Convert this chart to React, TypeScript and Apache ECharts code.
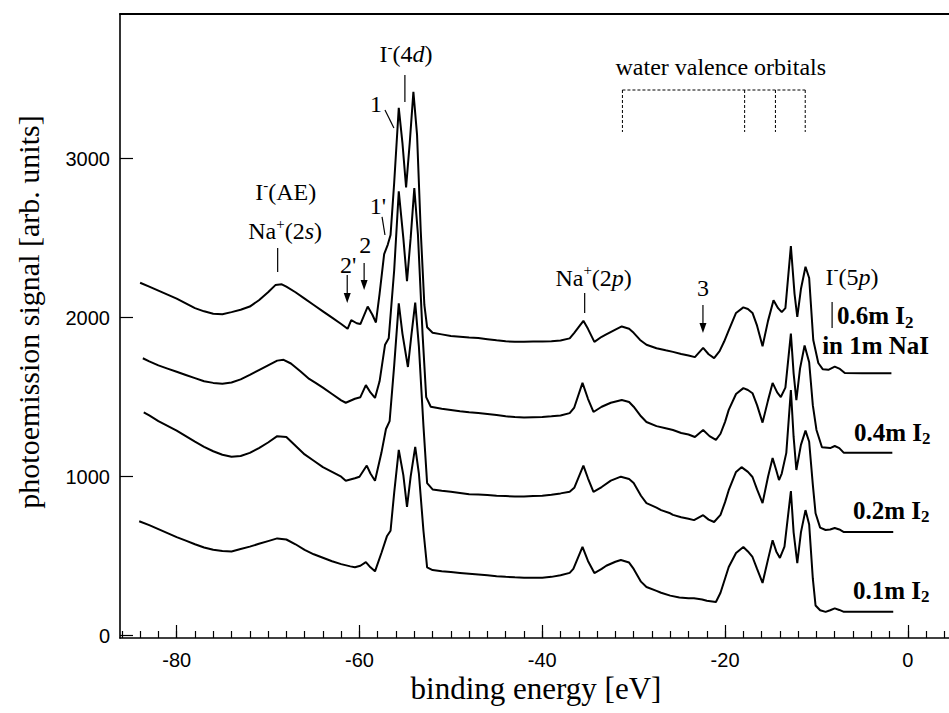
import React, { useEffect, useRef } from "react";
import * as echarts from "echarts";

// ---------- data (binding energy [eV], signal [arb. units]) ----------
const curve06: [number, number][] = [
  [-84.0, 2220], [-83, 2195], [-82, 2170], [-81, 2145], [-80, 2120], [-79, 2090], [-78, 2060], [-77, 2040],
  [-76, 2025], [-75, 2022], [-74, 2035], [-73, 2050], [-72, 2070], [-71, 2110], [-70, 2160], [-69.2, 2205],
  [-68.5, 2210], [-68, 2195], [-67, 2160], [-66, 2120], [-65, 2080], [-64, 2040], [-63, 2000], [-62, 1960],
  [-61.3, 1930], [-60.9, 1985], [-60.3, 1965], [-59.9, 1960], [-59.1, 2070], [-58.6, 2020], [-58.2, 1970],
  [-57.8, 2150], [-57.3, 2400], [-56.9, 2460], [-56.6, 2520], [-56.2, 2850], [-55.7, 3320], [-55.3, 3100],
  [-54.9, 2820], [-54.5, 3100], [-54.1, 3420], [-53.7, 3150], [-53.3, 2550], [-52.9, 2080], [-52.6, 1940],
  [-52, 1905], [-51, 1895], [-50, 1885], [-49, 1880], [-48, 1875], [-47, 1872], [-46, 1865], [-45, 1858],
  [-44, 1852], [-43, 1848], [-42, 1848], [-41, 1850], [-40, 1850], [-39, 1852], [-38, 1856], [-37, 1870],
  [-36.5, 1905], [-35.5, 1980], [-35, 1930], [-34.3, 1848], [-33.5, 1880], [-33, 1895], [-32, 1925],
  [-31.3, 1945], [-30.5, 1930], [-30, 1905], [-29.3, 1860], [-28.6, 1830], [-27.5, 1808], [-26.5, 1795],
  [-25.7, 1785], [-24.8, 1772], [-24, 1762], [-23.3, 1752], [-22.4, 1810], [-21.8, 1770], [-21.2, 1746],
  [-20.6, 1790], [-20.1, 1850], [-19.6, 1920], [-18.8, 2030], [-18, 2065], [-17.5, 2055], [-17, 2030],
  [-16.5, 1950], [-15.9, 1820], [-15.3, 1980], [-14.7, 2110], [-14.2, 2060], [-13.8, 2035], [-13.4, 2060],
  [-12.8, 2450], [-12.4, 2150], [-12.1, 2005], [-11.7, 2180], [-11.2, 2320], [-10.8, 2250], [-10.35, 1860],
  [-9.8, 1715], [-9.3, 1675], [-8.7, 1672], [-8.0, 1692], [-7.5, 1680], [-6.9, 1652], [-5, 1650], [-1.8, 1650],
];

const curve04: [number, number][] = [
  [-83.7, 1745], [-83, 1725], [-82, 1700], [-81, 1680], [-80, 1660], [-79, 1640], [-78, 1620], [-77, 1600],
  [-76, 1590], [-75, 1585], [-74, 1592], [-73, 1612], [-72, 1640], [-71, 1670], [-70, 1700], [-69, 1730],
  [-68.3, 1735], [-67.5, 1712], [-66.5, 1665], [-65.5, 1615], [-64.8, 1590], [-64, 1560], [-63, 1520],
  [-62, 1480], [-61.5, 1465], [-60.5, 1490], [-59.9, 1500], [-59.3, 1576], [-58.8, 1530], [-58.3, 1495],
  [-57.8, 1600], [-57.2, 1830], [-56.8, 1870], [-56.2, 2300], [-55.7, 2795], [-55.2, 2500], [-54.8, 2230],
  [-54.4, 2500], [-54.0, 2815], [-53.6, 2520], [-53.1, 1900], [-52.7, 1500], [-52.2, 1440], [-51, 1428],
  [-50, 1420], [-49, 1412], [-48, 1405], [-47, 1400], [-46, 1395], [-45, 1388], [-44, 1380], [-43, 1375],
  [-42, 1372], [-41, 1374], [-40, 1376], [-39, 1380], [-38, 1385], [-37, 1400], [-36.5, 1435], [-35.6, 1590],
  [-35, 1490], [-34.4, 1407], [-33.5, 1440], [-32.5, 1465], [-31.3, 1482], [-30.5, 1470], [-30, 1440],
  [-29.2, 1380], [-28.6, 1344], [-27.5, 1318], [-26.5, 1305], [-25.7, 1294], [-24.8, 1275], [-24, 1265],
  [-23.3, 1250], [-22.4, 1294], [-21.7, 1255], [-21, 1232], [-20.5, 1270], [-20, 1345], [-19.6, 1420],
  [-18.8, 1520], [-18, 1557], [-17.5, 1545], [-17, 1525], [-16.5, 1450], [-15.9, 1340], [-15.3, 1480],
  [-14.8, 1590], [-14.3, 1530], [-13.9, 1501], [-13.4, 1560], [-12.8, 1900], [-12.5, 1650], [-12.2, 1482],
  [-11.8, 1680], [-11.3, 1825], [-10.8, 1720], [-10.4, 1450], [-10.0, 1294], [-9.4, 1185], [-8.5, 1180],
  [-8.0, 1193], [-7.5, 1180], [-7, 1150], [-5, 1150], [-1.7, 1150],
];

const curve02: [number, number][] = [
  [-83.6, 1405], [-83, 1385], [-82, 1350], [-81, 1320], [-80, 1290], [-79, 1255], [-78, 1220], [-77, 1188],
  [-76, 1160], [-75, 1138], [-74, 1125], [-73, 1130], [-72, 1150], [-71, 1180], [-70, 1215], [-69, 1255],
  [-68, 1250], [-67, 1195], [-66, 1140], [-65, 1100], [-64, 1060], [-63, 1030], [-62, 1000], [-61.5, 975],
  [-60.5, 990], [-60, 1000], [-59.2, 1070], [-58.8, 1020], [-58.3, 975], [-57.6, 1150], [-57.1, 1300],
  [-56.7, 1350], [-56.2, 1700], [-55.7, 2090], [-55.3, 1900], [-54.7, 1690], [-54.3, 1900], [-53.9, 2095],
  [-53.5, 1820], [-53, 1320], [-52.6, 960], [-52, 920], [-51, 912], [-50, 905], [-49, 898], [-48, 890],
  [-47, 888], [-46, 885], [-45, 880], [-44, 878], [-43, 876], [-42, 875], [-41, 878], [-40, 880], [-39, 886],
  [-38, 895], [-37, 905], [-36.5, 930], [-35.5, 1070], [-35, 990], [-34.4, 905], [-33.5, 935], [-32.5, 975],
  [-31.4, 1000], [-30.5, 985], [-30, 960], [-29.2, 880], [-28.6, 834], [-27.5, 805], [-27, 790],
  [-26, 770], [-25.7, 760], [-24.8, 745], [-24, 735], [-23.4, 727], [-22.4, 758], [-21.8, 730], [-21.2, 715],
  [-20.5, 760], [-20, 840], [-19.6, 915], [-18.8, 1030], [-18.2, 1060], [-17.5, 1030], [-17, 998],
  [-16.5, 920], [-15.9, 834], [-15.3, 1000], [-14.8, 1117], [-14.4, 1040], [-14.1, 979], [-13.8, 1020],
  [-13.3, 1150], [-12.8, 1545], [-12.5, 1250], [-12.2, 1042], [-11.7, 1200], [-11.2, 1290], [-10.8, 1220],
  [-10.4, 950], [-10.1, 770], [-9.6, 680], [-9, 665], [-8.5, 668], [-8, 677], [-7.5, 668], [-7, 652],
  [-5, 652], [-1.6, 652],
];

const curve01: [number, number][] = [
  [-84.1, 720], [-83, 695], [-82, 670], [-81, 645], [-80, 620], [-79, 598], [-78, 575], [-77, 555],
  [-76, 540], [-75, 532], [-74, 530], [-73, 545], [-72, 560], [-71, 578], [-70, 595], [-69, 612],
  [-68, 605], [-67, 575], [-66, 540], [-65, 512], [-64, 490], [-63, 468], [-62, 450], [-61, 436],
  [-60.5, 430], [-59.9, 440], [-59.3, 463], [-58.8, 430], [-58.3, 405], [-57.6, 520], [-57, 625],
  [-56.6, 660], [-56.2, 900], [-55.7, 1168], [-55.2, 1010], [-54.8, 810], [-54.4, 1000], [-53.9, 1187],
  [-53.5, 1020], [-53, 660], [-52.6, 430], [-52, 413], [-51, 405], [-50, 400], [-49, 395], [-48, 390],
  [-47, 385], [-46, 380], [-45, 374], [-44, 370], [-43, 367], [-42, 365], [-41, 364], [-40, 365],
  [-39, 370], [-38, 380], [-37, 395], [-36.6, 420], [-35.6, 558], [-35, 470], [-34.3, 394], [-33.5, 420],
  [-33, 440], [-32, 465], [-31.4, 476], [-30.5, 460], [-30, 420], [-29.2, 340], [-28.6, 306], [-27.5, 282],
  [-27, 270], [-26, 252], [-25, 240], [-24, 236], [-23.4, 235], [-22.5, 228], [-22, 220], [-21, 212],
  [-20.5, 270], [-20, 360], [-19.6, 432], [-18.8, 520], [-18, 558], [-17.5, 530], [-17, 495], [-16.5, 420],
  [-15.9, 332], [-15.3, 480], [-14.8, 600], [-14.4, 530], [-14, 489], [-13.5, 560], [-12.8, 910],
  [-12.5, 650], [-12.1, 457], [-11.7, 650], [-11.2, 790], [-10.8, 700], [-10.4, 360], [-10.1, 190],
  [-9.6, 160], [-9, 150], [-8.5, 160], [-8, 172], [-7.5, 162], [-7, 150], [-5, 150], [-1.6, 150],
];

const seriesNames = ["0.6m I2 in 1m NaI", "0.4m I2", "0.2m I2", "0.1m I2"];

// ---------- axes ----------
const xMin = -86.2;
const xMax = 4.5;
const yMin = -14.5;
const yMax = 3910;
const xTickLabels = [-80, -60, -40, -20, 0];
const xMinorTicks = [
  -86, -84, -82, -80, -78, -76, -74, -72, -70, -68, -66, -64, -62, -60, -58, -56, -54, -52, -50, -48, -46,
  -44, -42, -40, -38, -36, -34, -32, -30, -28, -26, -24, -22, -20, -18, -16, -14, -12, -10, -8, -6, -4, -2, 0, 2, 4,
];
const yTickLabels = [0, 1000, 2000, 3000];

// ---------- annotations (data coordinates) ----------
type Pt = [number, number];
const annoTicks: [Pt, Pt][] = [
  [[-55.03, 3526], [-55.03, 3356]], // I-(4d)
  [[-57.21, 3306], [-56.23, 3193]], // 1
  [[-57.53, 2634], [-57.21, 2520]], // 1'
  [[-68.95, 2438], [-68.95, 2287]], // AE / Na 2s
  [[-35.36, 2155], [-35.36, 2030]], // Na 2p
  [[-8.29, 2099], [-8.29, 1935]], // 0.6m bar
];
const annoArrows: [Pt, Pt][] = [
  [[-61.34, 2269], [-61.34, 2093]], // 2'
  [[-59.49, 2344], [-59.49, 2174]], // 2
  [[-22.42, 2080], [-22.42, 1904]], // 3
];
const bracketTop = 3432;
const bracketBottom = 3168;
const bracketXs = [-31.23, -17.86, -14.49, -11.23];

const annoTexts: { t: string; at: Pt; align?: string }[] = [
  { t: "{n|I}{sup|-}{n|(4}{i|d}{n|)}", at: [-54.92, 3658] },
  { t: "{n|1}", at: [-58.18, 3344] },
  { t: "{n|1'}", at: [-57.97, 2702] },
  { t: "{n|2'}", at: [-61.23, 2332] },
  { t: "{n|2}", at: [-59.38, 2457] },
  { t: "{n|I}{sup|-}{n|(AE)}", at: [-68.07, 2790] },
  { t: "{n|Na}{sup|+}{n|(2}{i|s}{n|)}", at: [-68.13, 2545] },
  { t: "{n|water valence orbitals}", at: [-20.47, 3577] },
  { t: "{n|Na}{sup|+}{n|(2}{i|p}{n|)}", at: [-34.38, 2250] },
  { t: "{n|3}", at: [-22.42, 2187] },
  { t: "{n|I}{sup|-}{n|(5}{i|p}{n|)}", at: [-6.12, 2256] },
  { t: "{b|0.6m I}{sub|2}", at: [-7.75, 2011], align: "left" },
  { t: "{b|in 1m NaI}", at: [-9.38, 1822], align: "left" },
  { t: "{b|0.4m I}{sub|2}", at: [-5.9, 1281], align: "left" },
  { t: "{b|0.2m I}{sub|2}", at: [-6.01, 790], align: "left" },
  { t: "{b|0.1m I}{sub|2}", at: [-6.01, 287], align: "left" },
];

const SERIF = '"Liberation Serif", "Times New Roman", Times, serif';
const SANS = '"Liberation Sans", Arial, Helvetica, sans-serif';

const rich = {
  n: { fontFamily: SERIF, fontSize: 24, lineHeight: 30, fill: "#000" },
  i: { fontFamily: SERIF, fontSize: 24, fontStyle: "italic", lineHeight: 30, fill: "#000" },
  sup: { fontFamily: SERIF, fontSize: 15, verticalAlign: "top", fill: "#000" },
  b: { fontFamily: SERIF, fontSize: 25, fontWeight: "bold", lineHeight: 30, fill: "#000" },
  sub: { fontFamily: SERIF, fontSize: 17, fontWeight: "bold", verticalAlign: "bottom", fill: "#000" },
};

export default function App() {
  const ref = useRef<HTMLDivElement>(null);
  useEffect(() => {
    if (!ref.current) return;
    const chart = echarts.init(ref.current, undefined, { renderer: "svg" });
    const curves = [curve06, curve04, curve02, curve01];
    chart.setOption({
      animation: false,
      backgroundColor: "#fff",
      grid: { left: 120, top: 14, width: 9.2 * (xMax - xMin), height: 624, containLabel: false },
      xAxis: [
        {
          type: "value", min: xMin, max: xMax, position: "bottom",
          axisLine: { show: true, onZero: false, lineStyle: { color: "#000", width: 1.6 } },
          axisTick: { show: true, inside: true, length: 13, customValues: xTickLabels, lineStyle: { color: "#000", width: 1.2 } },
          axisLabel: {
            show: true, customValues: xTickLabels, color: "#000", fontSize: 20, fontFamily: SANS, margin: 12,
            formatter: (v: number) => String(v),
          },
          splitLine: { show: false },
        },
        {
          type: "value", min: xMin, max: xMax, position: "bottom",
          axisLine: { show: false, onZero: false },
          axisTick: { show: true, inside: true, length: 7, customValues: xMinorTicks, lineStyle: { color: "#000", width: 1.2 } },
          axisLabel: { show: false },
          splitLine: { show: false },
        },
        {
          type: "value", min: xMin, max: xMax, position: "top",
          axisLine: { show: true, onZero: false, lineStyle: { color: "#000", width: 2 } },
          axisTick: { show: false }, axisLabel: { show: false }, splitLine: { show: false },
        },
      ],
      yAxis: [
        {
          type: "value", min: yMin, max: yMax, position: "left",
          axisLine: { show: true, onZero: false, lineStyle: { color: "#000", width: 1.6 } },
          axisTick: { show: true, inside: true, length: 13, customValues: yTickLabels, lineStyle: { color: "#000", width: 1.2 } },
          axisLabel: {
            show: true, customValues: yTickLabels, color: "#000", fontSize: 20, fontFamily: SANS, margin: 10,
            formatter: (v: number) => String(v),
          },
          splitLine: { show: false },
        },
      ],
      series: curves.map((c, k) => ({
        name: seriesNames[k],
        type: "line",
        xAxisIndex: 0,
        yAxisIndex: 0,
        data: c,
        showSymbol: false,
        symbol: "none",
        silent: true,
        lineStyle: { color: "#000", width: 2 },
      })),
    });

    const px = (p: Pt) => chart.convertToPixel({ gridIndex: 0 }, p) as number[];
    const els: any[] = [];
    const seg = (a: number[], b: number[], dash?: number[], w = 1.2) =>
      els.push({
        type: "line", silent: true,
        shape: { x1: a[0], y1: a[1], x2: b[0], y2: b[1] },
        style: { stroke: "#000", lineWidth: w, lineDash: dash || null },
      });
    annoTicks.forEach(([a, b]) => seg(px(a), px(b)));
    annoArrows.forEach(([a, b]) => {
      const pa = px(a), pb = px(b);
      seg(pa, [pb[0], pb[1] - 6]);
      els.push({
        type: "polygon", silent: true,
        shape: { points: [[pb[0] - 3.5, pb[1] - 10], [pb[0] + 3.5, pb[1] - 10], [pb[0], pb[1]]] },
        style: { fill: "#000" },
      });
    });
    const bl = px([bracketXs[0], bracketTop]);
    const br = px([bracketXs[bracketXs.length - 1], bracketTop]);
    seg(bl, br, [3, 2], 1);
    bracketXs.forEach((x) => seg(px([x, bracketTop]), px([x, bracketBottom]), [3, 2], 1));
    annoTexts.forEach((a) => {
      const p = px(a.at);
      els.push({
        type: "text", silent: true, x: p[0], y: p[1],
        style: { text: a.t, rich, align: a.align || "center", verticalAlign: "middle", fill: "#000" },
      });
    });
    els.push({
      type: "text", silent: true, x: 536, y: 688,
      style: { text: "binding energy [eV]", fontFamily: SERIF, fontSize: 31, fill: "#000", align: "center", verticalAlign: "middle" },
    });
    els.push({
      type: "text", silent: true, x: 28, y: 312, rotation: Math.PI / 2,
      style: { text: "photoemission signal [arb. units]", fontFamily: SERIF, fontSize: 30, fill: "#000", align: "center", verticalAlign: "middle" },
    });
    chart.setOption({ graphic: { elements: els } });
    return () => chart.dispose();
  }, []);
  return <div ref={ref} style={{ position: "fixed", left: 0, top: 0, width: 949, height: 713, background: "#fff" }} />;
}
